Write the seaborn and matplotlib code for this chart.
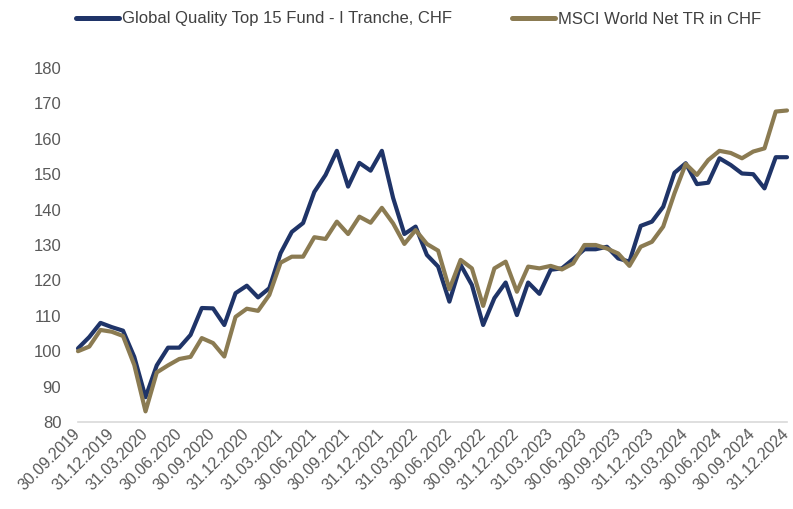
import numpy as np
import pandas as pd
import seaborn as sns
import matplotlib.pyplot as plt


# month-end index values, 30.09.2019 = 100
dates = pd.date_range('2019-09-30', '2024-12-31', freq='ME')

fund = [100.8, 104.0, 108.0, 106.8, 105.8, 98.4, 87.0, 96.0, 101.0, 101.0,
        104.6, 112.2, 112.1, 107.4, 116.4, 118.5, 115.2, 117.8, 127.7, 133.7,
        136.2, 145.0, 149.8, 156.6, 146.5, 153.2, 151.0, 156.6, 143.3, 133.1,
        135.2, 127.2, 123.9, 114.0, 124.4, 118.7, 107.4, 115.0, 119.4, 110.2,
        119.4, 116.2, 123.0, 123.4, 126.0, 128.8, 128.8, 129.5, 126.2, 125.3,
        135.4, 136.6, 140.8, 150.4, 153.1, 147.2, 147.6, 154.5, 152.6, 150.2,
        150.0, 146.0, 154.8, 154.8]

msci = [100.0, 101.3, 106.0, 105.5, 104.3, 96.1, 83.0, 94.0, 96.0, 97.8,
        98.4, 103.7, 102.3, 98.5, 109.7, 112.0, 111.4, 115.9, 125.0, 126.7,
        126.7, 132.2, 131.7, 136.6, 133.1, 138.0, 136.3, 140.5, 136.1, 130.3,
        134.2, 130.3, 128.4, 117.5, 125.8, 123.4, 112.8, 123.4, 125.3, 116.8,
        123.9, 123.4, 124.1, 123.1, 124.8, 130.0, 130.0, 129.0, 127.6, 124.1,
        129.5, 130.9, 135.2, 144.6, 152.9, 149.8, 154.0, 156.6, 156.0, 154.5,
        156.4, 157.3, 167.7, 168.0]

series_names = ['Global Quality Top 15 Fund - I Tranche, CHF', 'MSCI World Net TR in CHF']
colors = ['#1F3468', '#8B7B52']

df = pd.DataFrame({'step': np.arange(len(dates)), series_names[0]: fund, series_names[1]: msci})
long = df.melt(id_vars='step', var_name='series', value_name='value')

sns.set_style('white')
plt.rcParams['font.family'] = ['Liberation Sans', 'DejaVu Sans']

fig = plt.figure(figsize=(7.93, 5.09), dpi=100)
ax = fig.add_axes([78 / 793, 87 / 509, 709 / 793, 354 / 509])

sns.lineplot(data=long, x='step', y='value', hue='series', palette=colors,
             linewidth=3.0, ax=ax)
for line in ax.lines:
    line.set_solid_joinstyle('round')
    line.set_clip_on(False)

ax.set_xlim(0, len(dates) - 1)
ax.set_ylim(80, 180)
ax.set_yticks(range(80, 181, 10))
ax.set_xticks(df['step'][::3])
ax.set_xticklabels(dates[::3].strftime('%d.%m.%Y'))
plt.setp(ax.get_xticklabels(), rotation=45, ha='right', va='center', rotation_mode='anchor')
ax.tick_params(axis='both', length=0, labelcolor='#595959')
ax.tick_params(axis='y', pad=12, labelsize=12)
ax.tick_params(axis='x', pad=7, labelsize=11.5)
ax.set_xlabel('')
ax.set_ylabel('')

sns.despine(ax=ax, left=True)
ax.spines['bottom'].set_color('#D9D9D9')
ax.spines['bottom'].set_linewidth(1.2)

handles, labels = ax.get_legend_handles_labels()
leg = ax.legend(handles, labels, loc='center left', bbox_to_anchor=(76 / 793, 1 - 19 / 509),
                bbox_transform=fig.transFigure, ncol=2, frameon=False, fontsize=12,
                handlelength=2.6, handletextpad=0.15, columnspacing=3.6,
                borderpad=0, borderaxespad=0)
for t in leg.get_texts():
    t.set_color('#404040')
for h in leg.get_lines():
    h.set_linewidth(3.6)

fig.savefig('out.png', dpi=100)
